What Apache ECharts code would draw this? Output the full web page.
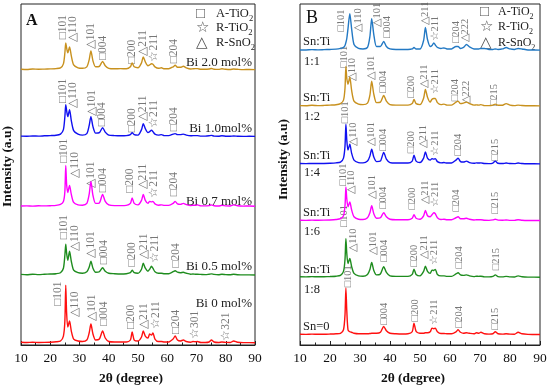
<!DOCTYPE html>
<html><head><meta charset="utf-8">
<script src="https://cdn.jsdelivr.net/npm/echarts@6/dist/echarts.min.js"></script>
<style>html,body{margin:0;padding:0;background:#fff}#c{width:550px;height:391px}</style>
</head><body><div id="c"></div>
<script>
// 2θ sampling angles (degrees) shared by all patterns
const twoTheta = [10,12,14,16,18,20,22,23.5,24.5,25.0,
 25.3,25.6,26.0,26.6,27.2,28.0,29.5,31,32.5,33.3,
 33.9,34.6,35.5,36.8,37.9,38.8,40,42,44,46,
 47.4,48.0,48.7,50,51.2,51.8,52.5,53.4,54.0,54.6,
 55.1,55.8,57,58,59,60.5,62,62.7,63.5,64.5,
 65.5,66.5,68,68.8,69.6,70.3,71.5,73,74.3,75.1,
 76,77.5,78.7,80,81.5,82.7,84,86,88,90];

// Panel A intensities (a.u., relative to each pattern's baseline)
const bi20 = [0.6,0.3,0.8,0.5,0.7,0.9,1.2,2,6,17,
 27,22,17,23,14,5,2,1.5,3,10,
 19,9,3,3.5,8.5,4,1.5,1,1.2,1,
 3,7,3,2,7,13,8,4,5,6,
 5.5,3,1.5,2,1,1,3,4.5,2.5,2.5,
 3.5,2,0.8,1,1.2,1.2,0.5,0.5,0.8,1.3,
 0.6,0.4,1,0.5,0.3,0.8,0.5,0.2,0.3,0.2];
const bi10 = [0.5,0.4,0.6,0.5,0.8,1,1.3,2.5,7,20,
 32,26,20,27,16,6,2.5,1.5,3,11,
 20,10,3.5,4,9,4.5,1.5,1,0.8,1,
 2,4,2,1.5,7,13,8,4,5,6.5,
 5,2.5,1.5,2,1,1,2.5,3,2,2,
 2.5,1.5,0.8,1,1,1,0.5,0.5,0.8,1.2,
 0.5,0.4,0.8,0.4,0.3,0.6,0.4,0.2,0.3,0.2];
const bi07 = [0.4,0.5,0.3,0.6,0.5,0.7,1,2,5,15,
 41,22,14,21,12,4,1.5,1.2,3,12,
 25,11,3,3.5,12,5,1.5,0.8,0.8,1,
 3,8.5,3,1.5,6,12,6,3,5,4.5,
 5,2.5,1.2,1.5,1,1,3,5,2.5,2,
 3,1.8,0.8,1.2,1,1.5,0.5,0.5,0.8,1.5,
 0.6,0.4,1,0.5,0.4,1.5,0.6,0.3,0.4,0.2];
const bi05 = [0.8,0.4,1,0.6,0.9,1.2,1.5,2.5,7,20,
 31,22,15,24,14,5,2.5,2,3.5,8,
 14,7,3,3.5,7.5,4,2,1.5,1.2,1.5,
 2.5,5,2.5,2,6,12,7,4,6,9,
 7,3.5,2,2,1.5,1.5,3.5,4.5,3,2.5,
 3,2,1,1.2,1,1,0.8,0.6,1,1.3,
 0.8,0.5,1,0.6,0.4,0.9,0.5,0.3,0.3,0.2];
const bi00 = [0.8,0.5,0.7,0.5,0.6,0.8,1.2,2,7,22,
 58,30,16,22,12,4,2,1.5,3,10,
 19,9,3,4,12,5,1.5,1,1,1,
 3,11,3,2,6,12,7,5,9,8,
 10,4,1.5,1.5,1,1,4,7,3,2,
 3,1.5,0.8,1.5,1.2,1.5,0.5,0.5,1,3,
 1,0.5,1,0.6,0.5,2,0.8,0.4,0.4,0.3];

// Panel B intensities
const snti11 = [0.5,0.5,0.8,0.6,0.8,1,1.3,2,3,5,
 8,12,22,37,22,6,2,1.5,3,14,
 32,16,4,4,9,4,1.5,1,1,1,
 1.5,3,1.5,1.5,10,23,11,4,5,7.5,
 5.5,3,2,2.5,1.5,1.5,4,4,2,3,
 6,3.5,1.5,1.5,1.5,2,2,1,1,1.5,
 1,1.5,3,1.5,1,2,1.5,0.5,0.5,0.3];
const snti12 = [0.5,0.4,0.8,0.5,0.7,1,1.3,2.5,6,18,
 40,28,22,29,16,5,2,1.5,3,11,
 25,12,3.5,4,10.7,5,1.5,1,1,1,
 2.5,6.7,2.5,1.5,8,16.7,9,4,7,7.7,
 7.7,3.5,1.5,2,1,1,4,5,2.5,3,
 4,2.5,1,1.2,1,1.5,0.5,0.5,1,2,
 0.8,0.8,2.5,1,0.5,1,0.6,0.3,0.4,0.2];
const snti14 = [0.5,0.4,0.6,0.5,0.6,0.8,1.2,2,6,18,
 40,24,14,20,11,4,1.5,1.2,3,8,
 15,7,2.5,3,11.7,5,1.5,1,1,1,
 3,9,3,1.5,6,12.3,6,4,5.5,5,
 5.5,2.5,1.2,1.5,1,1,4,6,2.5,2,
 3,1.5,0.8,1.2,1,1.2,0.5,0.4,1,3,
 0.8,0.5,1,0.5,0.4,1,0.5,0.3,0.3,0.2];
const snti16 = [0.5,0.4,0.6,0.5,0.6,0.8,1.2,2,5,15,
 34,22,14,19,11,4,1.5,1.2,3,8,
 15,7,2.5,3,8,4,1.5,1,1,1,
 2.5,6,2.5,1.5,5,10.3,5,4,6,8,
 7,3,1.2,1.5,1,1,3,4,2,2,
 2.5,1.5,0.8,1,1,1,0.5,0.4,0.8,1.5,
 0.6,0.5,0.8,0.4,0.4,1,0.5,0.3,0.3,0.2];
const snti18 = [0.6,0.5,0.8,0.6,0.7,0.9,1.2,2,6,18,
 39,24,14,19,11,4,1.5,1.2,3,8,
 15,7,2.5,3.5,10.7,5,1.5,1,1,1,
 3,8.3,3,1.5,6,11.3,6,4,7.3,7,
 8,3,1.5,1.5,1,1,3.5,4.7,2.5,2,
 2.5,1.5,0.8,1.2,1,1.2,0.5,0.5,1,2.5,
 0.8,0.5,1,0.5,0.4,1.5,0.6,0.3,0.3,0.2];
const sn0 = [0.5,0.4,0.6,0.5,0.5,0.7,1,1.5,5,20,
 47,24,5,3,2.5,1.5,1,1,1,1.2,
 1.5,1.5,1.5,2.5,8.3,4,1.5,1,0.8,1,
 3,11.7,3.5,1.5,1.5,2,2,3,6.7,6,
 6.7,3,1.2,1.2,1,1,3,5,2.5,1.5,
 2,1.5,1,2,1.5,2.5,1,0.6,1,3,
 1,0.6,1,0.6,0.5,2.5,1,0.4,0.3,0.2];

// vertical stacking offsets
const offsetsA = [276, 209, 139, 70, 2];
const offsetsB = [296.3, 240.3, 182, 125, 68, 10.3];
const namesA = ['Bi 2.0 mol%','Bi 1.0mol%','Bi 0.7 mol%','Bi 0.5 mol%','Bi 0 mol%'];
const namesB = ['Sn:Ti 1:1','Sn:Ti 1:2','Sn:Ti 1:4','Sn:Ti 1:6','Sn:Ti 1:8','Sn=0'];

// peak index annotations [2θ, height, text]
const annA20 = [[24.4,306.7,'□101'],[27.9,303.7,'△110'],[33.8,296.7,'△101'],[38.0,286,'□004'],[47.8,282,'□200'],[51.8,290,'△211'],[55.6,284.3,'☆211'],[62.2,282.7,'□204']];
const annA10 = [[24.4,242.7,'□101'],[27.9,237.7,'△110'],[34.1,229.3,'△101'],[37.8,219.3,'□004'],[47.8,213.3,'□200'],[51.8,224.3,'△211'],[55.4,217.7,'☆211'],[62.2,214.3,'□204']];
const annA07 = [[24.7,182.7,'□101'],[28.4,167.7,'△110'],[33.8,157.7,'△101'],[38.0,153.3,'□004'],[47.4,152.7,'□200'],[51.8,156,'△211'],[55.6,147.7,'☆211'],[62.4,149.3,'□204']];
const annA05 = [[24.7,106,'□101'],[28.4,94.3,'△110'],[33.8,87.7,'△101'],[38.4,81,'□004'],[47.8,78.7,'□200'],[52.2,86,'△211'],[55.7,82.7,'☆211'],[63.0,77.7,'□204']];
const annA00 = [[22.8,39.3,'□101'],[28.4,27.7,'△110'],[34.1,24.3,'△101'],[38.2,19.3,'□004'],[47.7,16,'□200'],[52.2,16,'△211'],[56.2,16,'☆211'],[63.0,11,'□204'],[69.6,6,'☆301'],[80.0,4.3,'☆321']];
const annB11 = [[23.6,315.3,'□101'],[29.4,315.3,'△110'],[35.9,320.3,'△101'],[39.1,308.7,'□004'],[51.9,322,'△211'],[55.0,305.3,'☆211'],[62.0,303.7,'□204'],[65.2,304.3,'△222']];
const annB12 = [[24.8,278.7,'□101'],[27.4,265.3,'△110'],[33.9,267,'△101'],[37.6,253.7,'□004'],[47.0,248.7,'□200'],[51.4,258.7,'△211'],[55.2,252,'☆211'],[61.7,245.3,'□204'],[65.3,242,'△222'],[74.8,240.3,'□215']];
const annB14 = [[25.0,223,'□101'],[27.8,200.3,'△110'],[33.9,200.3,'△101'],[37.8,195.3,'□004'],[47.2,193,'□200'],[51.1,197.7,'△211'],[55.2,190.3,'☆211'],[62.6,190.3,'□204'],[75.0,185.3,'□215']];
const annB16 = [[24.3,160.3,'□101'],[27.1,152,'△110'],[34.0,147,'△101'],[37.7,137,'□004'],[47.4,136.3,'□200'],[51.8,142,'△211'],[55.1,138.7,'☆211'],[62.1,134.3,'□204'],[75.1,132,'□215']];
const annB18 = [[24.9,118.7,'□101'],[27.7,93.7,'△110'],[34.3,90.3,'△101'],[38.0,83.7,'□004'],[48.2,78.7,'□200'],[51.3,87,'△211'],[54.7,80.3,'☆211'],[63.2,77,'□204'],[75.4,75.3,'□215']];
const annB0 = [[26.0,58,'□101'],[38.1,20.3,'□004'],[48.3,23.7,'□200'],[54.8,20.3,'☆211'],[63.0,17,'□204'],[75.2,15.3,'□215']];

const colorsA = ['#C8911E','#1010F0','#FF00FF','#1E8C1E','#FF1010'];
const colorsB = ['#2379C4','#C8911E','#1010F0','#FF00FF','#1E8C1E','#FF1010'];
const SERIF = '"Liberation Serif","Times New Roman",serif';

const chart = echarts.init(document.getElementById('c'), null, {renderer:'canvas'});

function lineSeries(name, vals, off, color, idx){
  return {type:'line', name, xAxisIndex:idx, yAxisIndex:idx, showSymbol:false, smooth:0.25,
    lineStyle:{width:1.4, color}, itemStyle:{color}, silent:true, animation:false,
    data: twoTheta.map((t,i)=>[t, off + vals[i]])};
}
function annSeries(arr, idx, fs){
  return {type:'scatter', xAxisIndex:idx, yAxisIndex:idx, symbolSize:0.1, silent:true, animation:false,
    itemStyle:{color:'transparent'},
    label:{show:true, formatter:'{b}', position:'inside', rotate:90, align:'left', verticalAlign:'middle',
      fontFamily:SERIF, fontSize:fs, color:'#555'},
    data: arr.map(a=>({name:a[2], value:[a[0], a[1]]}))};
}

const seriesA = [bi20,bi10,bi07,bi05,bi00].map((v,i)=>lineSeries(namesA[i], v, offsetsA[i], colorsA[i], 0));
const seriesB = [snti11,snti12,snti14,snti16,snti18,sn0].map((v,i)=>lineSeries(namesB[i], v, offsetsB[i], colorsB[i], 1));
const annsA = [annA20,annA10,annA07,annA05,annA00].map(a=>annSeries(a,0,11.5));
const annsB = [annB11,annB12,annB14,annB16,annB18,annB0].map(a=>annSeries(a,1,10.5));

function xAx(idx, padR){
  return {type:'value', gridIndex:idx, min:10, max:90, interval:10,
    axisLine:{show:true, lineStyle:{color:'#222', width:1}},
    axisTick:{show:true, inside:true, length:4, lineStyle:{color:'#222'}},
    minorTick:{show:true, splitNumber:2, length:2.5, lineStyle:{color:'#222'}},
    splitLine:{show:false},
    axisLabel:{fontFamily:SERIF, fontSize:13.5, color:'#111', margin:6},
    name:'2θ (degree)', nameLocation:'middle', nameGap:27,
    nameTextStyle:{fontFamily:SERIF, fontSize:13.5, fontWeight:'bold', color:'#111', padding:[0,padR,0,0]}};
}
function yAx(idx, max, gap, padL){
  return {type:'value', gridIndex:idx, min:0, max,
    axisLine:{show:false}, axisTick:{show:false}, axisLabel:{show:false}, splitLine:{show:false},
    name:'Intensity (a.u)', nameLocation:'middle', nameGap:gap,
    nameTextStyle:{fontFamily:SERIF, fontSize:13.5, fontWeight:'bold', color:'#111', padding:[0,0,0,padL]}};
}

function txt(text, x, y, size, opts){
  return Object.assign({type:'text', silent:true, style:Object.assign({text, x, y, font:size+'px '+SERIF, fill:'#222',
    textAlign:'left', textVerticalAlign:'middle'}, opts||{})});
}
function legendText(main, x, y, size){
  return {type:'text', silent:true, style:{text:'{a|'+main+'}{s|2}', x, y, textAlign:'left', textVerticalAlign:'middle',
    rich:{a:{fontFamily:SERIF, fontSize:size, fill:'#222', color:'#222'}, s:{fontFamily:SERIF, fontSize:size-4, color:'#222', fill:'#222', verticalAlign:'bottom', padding:[0,0,-3,0]}}}};
}

const graphics = [
  txt('A', 26, 21, 16, {font:'bold 16px '+SERIF, fill:'#111'}),
  txt('B', 306, 18, 18, {fill:'#111'}),
  // legend A
  txt('□', 196, 14, 15, {fill:'#555'}), legendText('A-TiO', 216, 14, 12.5),
  txt('☆', 196, 28, 15, {fill:'#555'}), legendText('R-TiO', 216, 28, 12.5),
  txt('△', 196, 43, 15, {fill:'#555'}), legendText('R-SnO', 216, 43, 12.5),
  // legend B
  txt('□', 480, 12, 15, {fill:'#555'}), legendText('A-TiO', 498, 12, 12),
  txt('☆', 480, 27, 15, {fill:'#555'}), legendText('R-TiO', 498, 27, 12),
  txt('△', 480, 43, 15, {fill:'#555'}), legendText('R-SnO', 498, 43, 12),
  // sample labels A
  txt(namesA[0], 252, 63, 13, {textAlign:'right'}),
  txt(namesA[1], 252, 129, 13, {textAlign:'right'}),
  txt(namesA[2], 252, 202, 13, {textAlign:'right'}),
  txt(namesA[3], 252, 267, 13, {textAlign:'right'}),
  txt(namesA[4], 252, 304, 13, {textAlign:'right'}),
  // sample labels B
  txt('Sn:Ti', 303, 42, 12.5), txt('1:1', 304, 62, 12.5),
  txt('Sn:Ti', 303, 98, 12.5), txt('1:2', 304, 117, 12.5),
  txt('Sn:Ti', 303, 156, 12.5), txt('1:4', 304, 173, 12.5),
  txt('Sn:Ti', 303, 213, 12.5), txt('1:6', 304, 232, 12.5),
  txt('Sn:Ti', 303, 270, 12.5), txt('1:8', 304, 290, 12.5),
  txt('Sn=0', 303, 327, 12.5)
];

chart.setOption({
  animation:false,
  backgroundColor:'#fff',
  grid:[
    {left:20, right:295, top:4, bottom:45, show:true, borderColor:'#222', borderWidth:1, backgroundColor:'transparent'},
    {left:300, right:10, top:4, bottom:44, show:true, borderColor:'#222', borderWidth:1, backgroundColor:'transparent'}
  ],
  xAxis:[xAx(0,14), xAx(1,14)],
  yAxis:[yAx(0,342,6,16), yAx(1,343,9,30)],
  series:[...seriesA, ...seriesB, ...annsA, ...annsB],
  graphic:graphics
});
</script></body></html>
